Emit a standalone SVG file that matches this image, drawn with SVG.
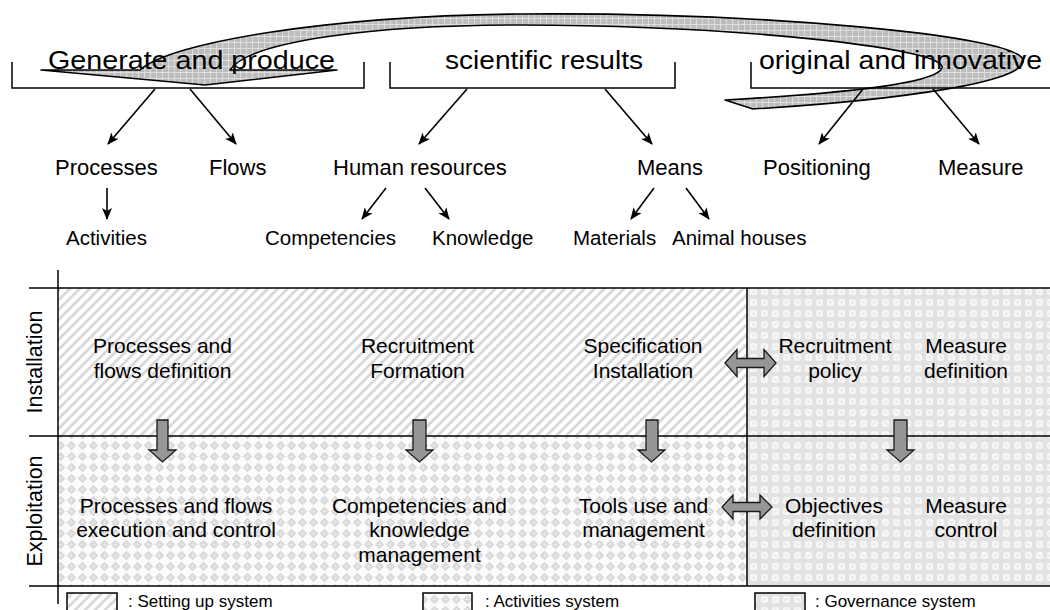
<svg xmlns="http://www.w3.org/2000/svg" width="1050" height="610" viewBox="0 0 1050 610">
<style>
text{font-family:"Liberation Sans",Arial,sans-serif;fill:#000}
.top{font-size:25px}
.r2{font-size:22px}
.r3{font-size:20.5px}
.cell{font-size:21px;text-anchor:middle}
.lbl{font-size:21.5px;text-anchor:middle}
.leg{font-size:17px}
.ln{stroke:#000;stroke-width:1.5;fill:none}
.con{stroke:#000;stroke-width:1.6;fill:none;marker-end:url(#ah)}
.blk{fill:#969696;stroke:#1a1a1a;stroke-width:1.3;stroke-linejoin:miter}
.box{stroke:#000;stroke-width:1.5}
</style>
<defs>
<marker id="ah" viewBox="0 0 12 10" refX="11" refY="5" markerWidth="12" markerHeight="10" markerUnits="userSpaceOnUse" orient="auto">
<path d="M0,0 L12,5 L0,10 L3,5 Z" fill="#000"/>
</marker>
<pattern id="hatch" width="7" height="7" patternUnits="userSpaceOnUse" patternTransform="rotate(45)">
<rect width="7" height="7" fill="#fff"/>
<line x1="1.5" y1="0" x2="1.5" y2="7" stroke="#d2d2d2" stroke-width="2.4"/>
</pattern>
<pattern id="act" width="11" height="11" patternUnits="userSpaceOnUse">
<rect width="11" height="11" fill="#fbfbfb"/>
<polygon points="5.5,0.8 10.2,5.5 5.5,10.2 0.8,5.5" fill="#d8d8d8"/>
<path d="M5.5,3 V8 M3,5.5 H8" stroke="#e8e8e8" stroke-width="1"/>
</pattern>
<pattern id="gov" width="11" height="11" patternUnits="userSpaceOnUse">
<rect width="11" height="11" fill="#e2e2e2"/>
<rect x="2" y="2" width="7" height="7" rx="1.8" fill="#f6f6f6"/>
<circle cx="5.5" cy="5.5" r="1.2" fill="#e6e6e6"/>
</pattern>
<pattern id="grid" width="6" height="6" patternUnits="userSpaceOnUse">
<rect width="6" height="6" fill="#bdbdbd"/>
<path d="M0,0.5 H6 M0.5,0 V6" stroke="#e4e4e4" stroke-width="0.8"/>
</pattern>
</defs>

<!-- background regions -->
<g id="regions">
<rect x="58" y="288" width="689" height="148" fill="url(#hatch)"/>
<rect x="58" y="436" width="689" height="150" fill="url(#act)"/>
<rect x="747" y="288" width="303" height="298" fill="url(#gov)"/>
</g>

<!-- big curved arrow -->
<g id="curved-arrow">
<path d="M205,85 L41,70 L140,70 C170,42 330,16 520,14 C760,12 1018,35 1023,60 C1027,82 900,100 753,109 L725,100 C830,94 935,85 942,68 C948,50 760,26 520,25 C380,25 250,40 230,70 L337,70 Z" fill="url(#grid)" stroke="#000" stroke-width="1.6" stroke-linejoin="round"/>
</g>

<!-- top phrases with brackets -->
<g id="phrase-generate">
<text class="top" x="48" y="69" textLength="287" lengthAdjust="spacingAndGlyphs">Generate and produce</text>
<path class="ln" d="M12,62 V88 H364 V62"/>
</g>
<g id="phrase-scientific">
<text class="top" x="445" y="69" textLength="198" lengthAdjust="spacingAndGlyphs">scientific results</text>
<path class="ln" d="M390,62 V88 H675 V62"/>
</g>
<g id="phrase-original">
<text class="top" x="759" y="69" textLength="283" lengthAdjust="spacingAndGlyphs">original and innovative</text>
<path class="ln" d="M751,62 V88 H1052"/>
</g>

<!-- second row -->
<g id="n-processes"><text class="r2" x="55" y="175">Processes</text></g>
<g id="n-flows"><text class="r2" x="209" y="175">Flows</text></g>
<g id="n-human"><text class="r2" x="333" y="175">Human resources</text></g>
<g id="n-means"><text class="r2" x="637" y="175">Means</text></g>
<g id="n-positioning"><text class="r2" x="763" y="175">Positioning</text></g>
<g id="n-measure"><text class="r2" x="938" y="175">Measure</text></g>

<!-- third row -->
<g id="n-activities"><text class="r3" x="66" y="245">Activities</text></g>
<g id="n-competencies"><text class="r3" x="265" y="245">Competencies</text></g>
<g id="n-knowledge"><text class="r3" x="432" y="245">Knowledge</text></g>
<g id="n-materials"><text class="r3" x="573" y="245">Materials</text></g>
<g id="n-animal"><text class="r3" x="672" y="245">Animal houses</text></g>

<!-- connectors -->
<g id="connectors">
<line class="con" x1="155" y1="89" x2="108" y2="144"/>
<line class="con" x1="190" y1="89" x2="236" y2="144"/>
<line class="con" x1="467" y1="89" x2="419" y2="144"/>
<line class="con" x1="605" y1="89" x2="652" y2="144"/>
<line class="con" x1="863" y1="89" x2="819" y2="144"/>
<line class="con" x1="933" y1="89" x2="979" y2="144"/>
<line class="con" x1="107" y1="188" x2="107" y2="219"/>
<line class="con" x1="386" y1="188" x2="362" y2="219"/>
<line class="con" x1="425" y1="188" x2="449" y2="219"/>
<line class="con" x1="654" y1="188" x2="631" y2="219"/>
<line class="con" x1="686" y1="188" x2="709" y2="219"/>
</g>

<!-- grid lines -->
<g id="grid-lines">
<line class="ln" x1="58" y1="270" x2="58" y2="604"/>
<line class="ln" x1="29" y1="288" x2="1050" y2="288"/>
<line class="ln" x1="29" y1="436" x2="1050" y2="436"/>
<line class="ln" x1="29" y1="586" x2="1050" y2="586"/>
<line class="ln" x1="747" y1="288" x2="747" y2="586"/>
</g>

<!-- row labels -->
<g id="lbl-installation"><text class="lbl" transform="translate(42,362) rotate(-90)">Installation</text></g>
<g id="lbl-exploitation"><text class="lbl" transform="translate(42,511) rotate(-90)">Exploitation</text></g>

<!-- block arrows -->
<g id="block-arrows">
<path class="blk" d="M157,420 H168 V450 H176 L162.5,462 L149,450 H157 Z"/>
<path class="blk" d="M413,420 H426 V450 H433 L419.5,462 L406,450 H413 Z"/>
<path class="blk" d="M646,420 H658 V450 H665 L651.5,462 L638,450 H646 Z"/>
<path class="blk" d="M894,420 H907 V450 H914 L900.5,462 L887,450 H894 Z"/>
<path class="blk" d="M725,363 L737,349.5 V358.5 H764 V349.5 L776,363 L764,376.5 V367.5 H737 V376.5 Z"/>
<path class="blk" d="M722,507 L733,495 V502.5 H760 V495 L772,507 L760,519 V511.5 H733 V519 Z"/>
</g>

<!-- cells -->
<g id="c-proc-def"><text class="cell" x="162.5" y="353">Processes and</text><text class="cell" x="162.5" y="378">flows definition</text></g>
<g id="c-recruit"><text class="cell" x="417.5" y="353">Recruitment</text><text class="cell" x="417.5" y="378">Formation</text></g>
<g id="c-spec"><text class="cell" x="643" y="353">Specification</text><text class="cell" x="643" y="378">Installation</text></g>
<g id="c-policy"><text class="cell" x="835" y="353">Recruitment</text><text class="cell" x="835" y="378">policy</text></g>
<g id="c-measure-def"><text class="cell" x="966" y="353">Measure</text><text class="cell" x="966" y="378">definition</text></g>
<g id="c-proc-exec"><text class="cell" x="176" y="513">Processes and flows</text><text class="cell" x="176" y="537">execution and control</text></g>
<g id="c-comp"><text class="cell" x="419.5" y="513">Competencies and</text><text class="cell" x="419.5" y="537">knowledge</text><text class="cell" x="419.5" y="562">management</text></g>
<g id="c-tools"><text class="cell" x="643.5" y="513">Tools use and</text><text class="cell" x="643.5" y="537">management</text></g>
<g id="c-objectives"><text class="cell" x="834" y="513">Objectives</text><text class="cell" x="834" y="537">definition</text></g>
<g id="c-measure-ctl"><text class="cell" x="966" y="513">Measure</text><text class="cell" x="966" y="537">control</text></g>

<!-- legend -->
<g id="legend-setting"><rect class="box" x="67" y="593" width="50" height="22" fill="url(#hatch)"/><text class="leg" x="128" y="607">: Setting up system</text></g>
<g id="legend-activities"><rect class="box" x="423" y="593" width="49" height="22" fill="url(#act)"/><text class="leg" x="485" y="607">: Activities system</text></g>
<g id="legend-governance"><rect class="box" x="755" y="593" width="50" height="22" fill="url(#gov)"/><text class="leg" x="815" y="607">: Governance system</text></g>
</svg>
